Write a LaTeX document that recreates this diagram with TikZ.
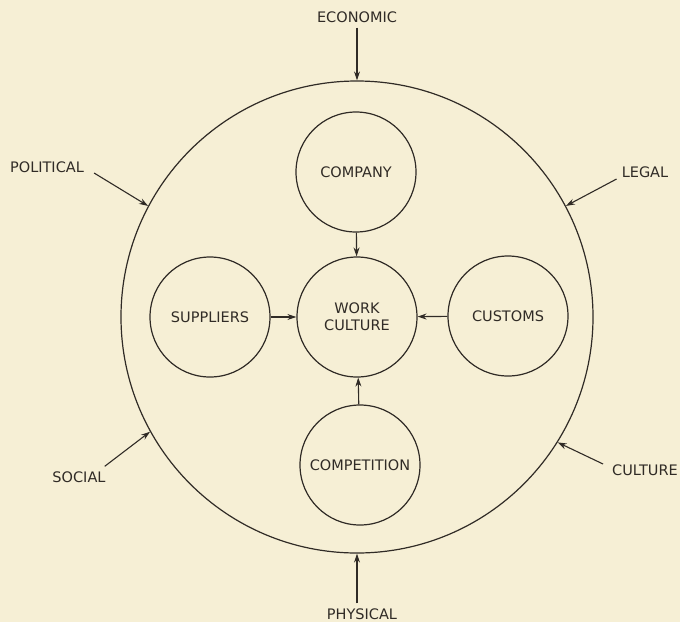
\documentclass[tikz,border=0pt]{standalone}
\usepackage{fontspec}
\setmainfont{DejaVu Sans}
\usetikzlibrary{arrows.meta}
\providecommand{\WCenv}{472pt}
\providecommand{\WCbox}{120pt}
\providecommand{\WClbl}{\fontsize{14.5}{17}\selectfont}
\definecolor{paper}{RGB}{246,239,213}
\definecolor{ink}{RGB}{48,43,38}
\tikzset{
  ring/.style={circle, draw=ink, line width=1.2pt, inner sep=0pt},
  envring/.style={ring, minimum size=\WCenv},
  factorbox/.style={ring, minimum size=\WCbox, font=\WClbl, text=ink,
                    align=center},
  force/.style={font=\WClbl, text=ink, inner sep=0pt},
  link/.style={draw=ink, line width=1.1pt,
               -{Stealth[length=9pt,width=6pt]}}
}

\begin{document}
\begin{tikzpicture}[x=1pt, y=-1pt]

\fill[paper] (0,0) rectangle (680,622);
\useasboundingbox (0,0) rectangle (680,622);

\node (env) [envring] at (357,317) {};

\foreach \nm/\px/\py/\txt in {company/356/172/COMPANY,
    work/357/317/{WORK\\CULTURE}, suppliers/210/317/SUPPLIERS,
    customs/508/316/CUSTOMS, competition/360/465/COMPETITION}{
  \node (\nm) [factorbox] at (\px,\py) {\txt};
}

% Factors -> Work culture
\foreach \nm in {company, suppliers, customs, competition}{
  \draw[link] (\nm) -- (work);
}

\node (eco) [force] at (357,17) {ECONOMIC};
\node (pol) [force] at (47,167) {POLITICAL};
\node (leg) [force] at (645,172) {LEGAL};
\node (soc) [force] at (79,477) {SOCIAL};
\node (cul) [force] at (645,470) {CULTURE};
\node (phy) [force] at (362,614) {PHYSICAL};

% Forces -> Environment
\draw[link] ([yshift=-5pt]eco.south) -- (env.north);

\draw[link] ([shift={(10pt,-6pt)}]pol.east) -- (env.152);

\draw[link] ([shift={(-5pt,-7pt)}]leg.west) -- (env.28.7);

\draw[link] ([shift={(-1pt,5pt)}]soc.north east) -- (env.209.6);

\draw[link] ([shift={(-9pt,6pt)}]cul.west) -- (env.328.7);

\draw[link] ([yshift=5pt]phy.north -| env.south) -- (env.south);

\end{tikzpicture}
\end{document}
